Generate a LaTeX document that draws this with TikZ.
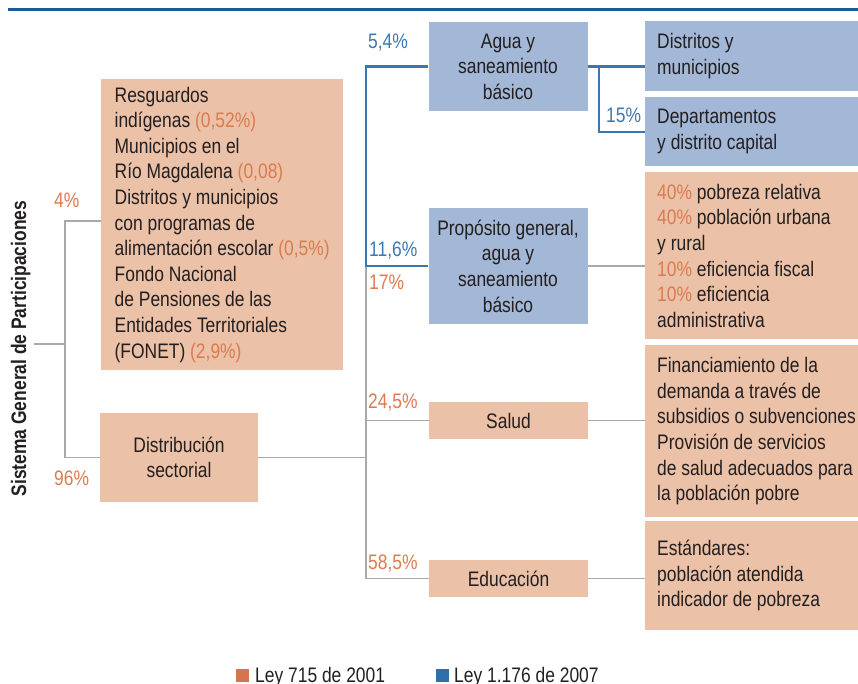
\documentclass[tikz,border=0pt]{standalone}
\usepackage{fontspec}
\setmainfont{Liberation Sans}[FakeStretch=0.83]
\definecolor{durazno}{HTML}{EBC1A7}
\definecolor{celeste}{HTML}{A3B7D6}
\definecolor{naranja}{HTML}{DB7B50}
\definecolor{azultexto}{HTML}{3B78B4}
\definecolor{grislinea}{HTML}{A7A9AC}
\definecolor{azullinea}{HTML}{3A76B0}
\definecolor{tope}{HTML}{1F5B92}
\definecolor{tinta}{HTML}{231F20}
\definecolor{leyuno}{HTML}{D47550}
\definecolor{leydos}{HTML}{2F6FAA}
\newcommand{\pcn}[1]{{\color{naranja}#1}}
\tikzstyle{sector} = [rectangle, fill=durazno, minimum width=159pt, align=center, inner sep=0pt]
\tikzstyle{detalle} = [rectangle, fill=durazno, anchor=north west, text width=215pt, align=flush left, inner xsep=12pt, inner ysep=0pt]
\tikzstyle{pct} = [anchor=base west, inner sep=0pt]
\tikzstyle{cuadro} = [rectangle, minimum size=13pt, inner sep=0pt]
\tikzstyle{ramagris} = [draw=grislinea, line width=1.5pt]
\tikzstyle{ramaazul} = [draw=azullinea, line width=2.2pt]

\begin{document}
\begin{tikzpicture}[x=1pt, y=-1pt, font=\fontsize{21}{25.6}\selectfont, text=tinta]
    \useasboundingbox (0,0) rectangle (858,683);
    \draw[tope, line width=2.2pt] (8,9.5) -- (858,9.5);
    % titulo vertical
    \node[rotate=90, anchor=base, inner sep=0pt, font=\fontsize{21}{25.6}\selectfont\bfseries] (sgp) at (26,348.5) {Sistema General de Participaciones};
    % cajas de la izquierda
    \node[rectangle, fill=durazno, anchor=north west, minimum width=242pt, minimum height=291pt, inner sep=0pt, align=left] (resguardos) at (101,79)
        {Resguardos\\ indígenas \pcn{(0,52\%)}\\ Municipios en el\\ Río Magdalena \pcn{(0,08)}\\ Distritos y municipios\\ con programas de\\ alimentación escolar \pcn{(0,5\%)}\\ Fondo Nacional\\ de Pensiones de las\\ Entidades Territoriales\\ (FONET) \pcn{(2,9\%)}};
    \node[sector, minimum width=158pt, minimum height=89pt] (distribucion) at (179,457.5) {Distribución\\ sectorial};
    % sectores
    \node[sector, fill=celeste, minimum height=89pt] (agua) at (508,66.5) {Agua y\\ saneamiento\\ básico};
    \node[sector, fill=celeste, minimum height=116pt] (proposito) at (508,266) {Propósito general,\\ agua y\\ saneamiento\\ básico};
    \node[sector, minimum height=37pt] (salud) at (508.5,420.5) {Salud};
    \node[sector, minimum height=37pt] (educacion) at (508.5,578.5) {Educación};
    % criterios de la derecha
    \node[detalle, fill=celeste, minimum height=70pt] (distritos) at (645,21) {Distritos y\\ municipios};
    \node[detalle, fill=celeste, minimum height=69pt] (departamentos) at (645,97) {Departamentos\\ y distrito capital};
    \node[detalle, minimum height=167pt] (criterios) at (645,172)
        {\pcn{40\%} pobreza relativa\\ \pcn{40\%} población urbana\\ y rural\\ \pcn{10\%} eficiencia fiscal\\ \pcn{10\%} eficiencia\\ administrativa};
    \node[detalle, minimum height=172pt] (servicios) at (645,345)
        {Financiamiento de la\\ demanda a través de\\ subsidios o subvenciones\\ Provisión de servicios\\ de salud adecuados para\\ la población pobre};
    \node[detalle, minimum height=109pt] (estandares) at (645,521) {Estándares:\\ población atendida\\ indicador de pobreza};
    % porcentajes
    \node[pct, text=naranja] (p4) at (54,207) {4\%};
    \node[pct, text=naranja] (p96) at (54,485) {96\%};
    \node[pct, text=azultexto] (p54) at (368,48) {5,4\%};
    \node[pct, text=azultexto] (p116) at (369,256) {11,6\%};
    \node[pct, text=naranja] (p17) at (369,289) {17\%};
    \node[pct, text=naranja] (p245) at (368,408) {24,5\%};
    \node[pct, text=naranja] (p585) at (368,569) {58,5\%};
    \node[pct, text=azultexto] (p15) at (606,122) {15\%};
    % ramas
    \coordinate (raiz) at (34,344);
    \coordinate (nodo) at (65,344);
    \coordinate (tronco) at (366,266);
    \coordinate (bifurca) at (599,66.5);
    \begin{scope}[ramagris]
        \draw (raiz) -- (nodo);
        \draw (resguardos.west |- 0,221) -| (nodo) |- (distribucion.west);
        \draw (distribucion.east) -- (distribucion.east -| tronco);
        \draw (tronco) |- (educacion.west);
        \draw (salud.west) -- (salud.west -| tronco);
        \draw (proposito.east) -- (proposito.east -| criterios.west);
        \draw (salud.east) -- (salud.east -| servicios.west);
        \draw (educacion.east) -- (educacion.east -| estandares.west);
    \end{scope}
    \begin{scope}[ramaazul]
        \draw (proposito.west) -- (tronco) |- (agua.west);
        \draw (agua.east) -- (agua.east -| distritos.west);
        \draw (bifurca) |- (departamentos.west);
    \end{scope}
    % leyenda
    \node[cuadro, fill=leyuno] (cuadro1) at (242.5,675.5) {};
    \node[pct] (ley1) at (255,682) {Ley 715 de 2001};
    \node[cuadro, fill=leydos] (cuadro2) at (442.5,675.5) {};
    \node[pct] (ley2) at (454,682) {Ley 1.176 de 2007};
\end{tikzpicture}
\end{document}
